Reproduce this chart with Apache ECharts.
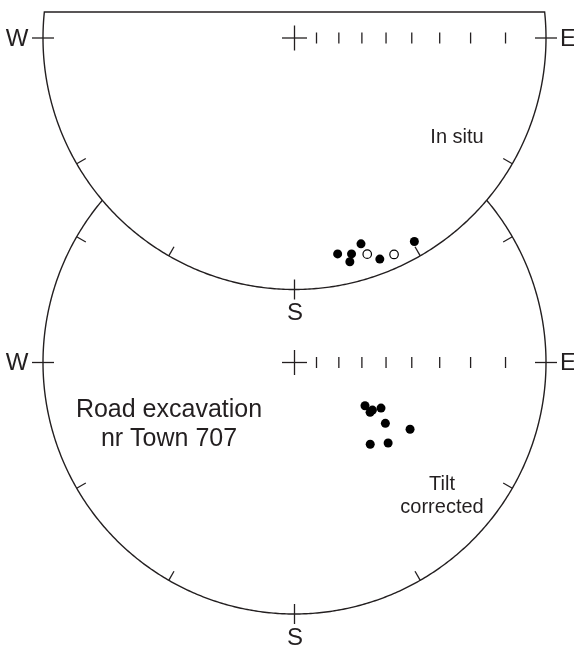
<!DOCTYPE html>
<html><head><meta charset="utf-8">
<script src="https://cdn.jsdelivr.net/npm/echarts@6/dist/echarts.min.js"></script>
<style>html,body{margin:0;padding:0;background:#fff}#c{width:574px;height:648px}</style>
</head><body><div id="c"></div>
<script>
// Palaeomagnetic directions: declination / inclination (deg). Negative inclination = upper hemisphere (open symbol)
const inSituDec = [168.7, 162.1, 165.2, 166.1, 161.4, 158.9, 155.3, 149.5];
const inSituInc = [7.6, 8.6, 6.8, 5.0, -5.6, 3.4, -3.1, 3.6];
const tiltDec = [121.5, 123.4, 121.4, 117.8, 123.8, 120.0, 137.2, 130.7];
const tiltInc = [53.6, 50.4, 50.1, 47.5, 43.0, 34.1, 42.2, 37.7];
// Net graduations
const axisTickDeg = [10, 20, 30, 40, 50, 60, 70, 80];
const rimTickAz = [30, 60, 120, 150, 210, 240, 300, 330];
const compassLabels = ['W', 'E', 'S'];
const netTitles = ['In situ', 'Tilt\ncorrected'];
const siteLabel = ['Road excavation', 'nr Town 707'];

// Layout (pixels)
const W = 574, H = 648, K = 251.5, CX = 294.5;
const netCY = [38, 362.5];
const topCut = 12;
const INK = '#231f20';
const FONT = '"Liberation Sans", Arial, Helvetica, sans-serif';
const rad = d => d * Math.PI / 180;

function proj(dec, inc, cyU) {
  const r = Math.tan(rad((90 - Math.abs(inc)) / 2));
  return [Math.sin(rad(dec)) * r, cyU - Math.cos(rad(dec)) * r];
}
function pts(decs, incs, net, upper) {
  const cyU = netCY[net] / K, out = [];
  decs.forEach((d, i) => {
    if ((incs[i] < 0) === upper) out.push(proj(d, incs[i], cyU));
  });
  return out;
}

function renderNet(params, api) {
  const i = api.value(0);
  const cyU = netCY[i] / K;
  let a0, a1;
  if (i === 0) { a0 = Math.acos((netCY[0] - topCut) / K) * 180 / Math.PI; }
  else { a0 = Math.acos((netCY[1] - netCY[0]) / K / 2) * 180 / Math.PI; }
  a1 = 360 - a0;
  const onRim = az => api.coord([Math.sin(rad(az)), cyU - Math.cos(rad(az))]);
  const arc = [];
  for (let a = a0; a <= a1 + 1e-9; a += 0.5) arc.push(onRim(a));
  arc.push(onRim(a1));
  const ls = { stroke: INK, lineWidth: 1.4, fill: null };
  const tl = { stroke: INK, lineWidth: 1.3 };
  const ch = [];
  ch.push({ type: i === 0 ? 'polygon' : 'polyline', shape: { points: arc }, style: Object.assign({}, ls, {fill: 'none'}) });
  const line = (x1, y1, x2, y2, s) => ch.push({ type: 'line', shape: { x1, y1, x2, y2 }, style: s || tl });
  // rim ticks
  rimTickAz.forEach(az => {
    if (az <= a0 || az >= a1) return;
    const p = onRim(az);
    const dx = -Math.sin(rad(az)), dy = Math.cos(rad(az));
    line(p[0], p[1], p[0] + dx * 10.5, p[1] + dy * 10.5);
  });
  // cardinal crosses
  const pe = onRim(90), pw = onRim(270), ps = onRim(180);
  line(pe[0] - 11, pe[1], pe[0] + 11, pe[1]);
  line(pw[0] - 11, pw[1], pw[0] + 11, pw[1]);
  line(ps[0], ps[1] - 10, ps[0], ps[1] + 10);
  // centre cross
  const c = api.coord([0, cyU]);
  line(c[0] - 12.5, c[1], c[0] + 12.5, c[1]);
  line(c[0], c[1] - 12.5, c[0], c[1] + 12.5);
  // axis graduations
  axisTickDeg.forEach(d => {
    const p = api.coord([Math.tan(rad(d / 2)), cyU]);
    line(p[0], p[1] - 5.5, p[0], p[1] + 5.5);
  });
  const txt = (text, x, y, size, align, lh) => ch.push({ type: 'text', x, y,
    style: { text, fill: INK, font: size + 'px ' + FONT, align: align, verticalAlign: 'middle', lineHeight: lh || size } });
  txt(compassLabels[0], pw[0] - 14.5, pw[1] + 1, 24, 'right');
  txt(compassLabels[1], pe[0] + 14, pe[1] + 1, 24, 'left');
  txt(compassLabels[2], ps[0] + 0.5, ps[1] + 24, 24, 'center');
  if (i === 0) {
    txt(netTitles[0], c[0] + 162.5, c[1] + 99.5, 20, 'center');
  } else {
    txt(netTitles[1], c[0] + 147.5, c[1] + 133.5, 20, 'center', 23);
    txt(siteLabel.join('\n'), c[0] - 125.5, c[1] + 62.5, 25, 'center', 29);
  }
  return { type: 'group', children: ch };
}

const chart = echarts.init(document.getElementById('c'), null, { renderer: 'canvas' });
const dot = { color: '#000', opacity: 1 };
const ring = { color: '#fff', borderColor: '#000', borderWidth: 1.2, opacity: 1 };
chart.setOption({
  animation: false,
  backgroundColor: '#fff',
  grid: { left: 0, right: 0, top: 0, bottom: 0 },
  xAxis: { type: 'value', min: -CX / K, max: (W - CX) / K, show: false },
  yAxis: { type: 'value', inverse: true, min: 0, max: H / K, show: false },
  series: [
    { type: 'custom', renderItem: renderNet, data: [[0], [1]], clip: false, z: 1, silent: true },
    { type: 'scatter', data: pts(inSituDec, inSituInc, 0, false), symbolSize: 9, itemStyle: dot, z: 3 },
    { type: 'scatter', data: pts(inSituDec, inSituInc, 0, true), symbolSize: 8.5, itemStyle: ring, z: 3 },
    { type: 'scatter', data: pts(tiltDec, tiltInc, 1, false), symbolSize: 9, itemStyle: dot, z: 3 }
  ]
});
</script></body></html>
